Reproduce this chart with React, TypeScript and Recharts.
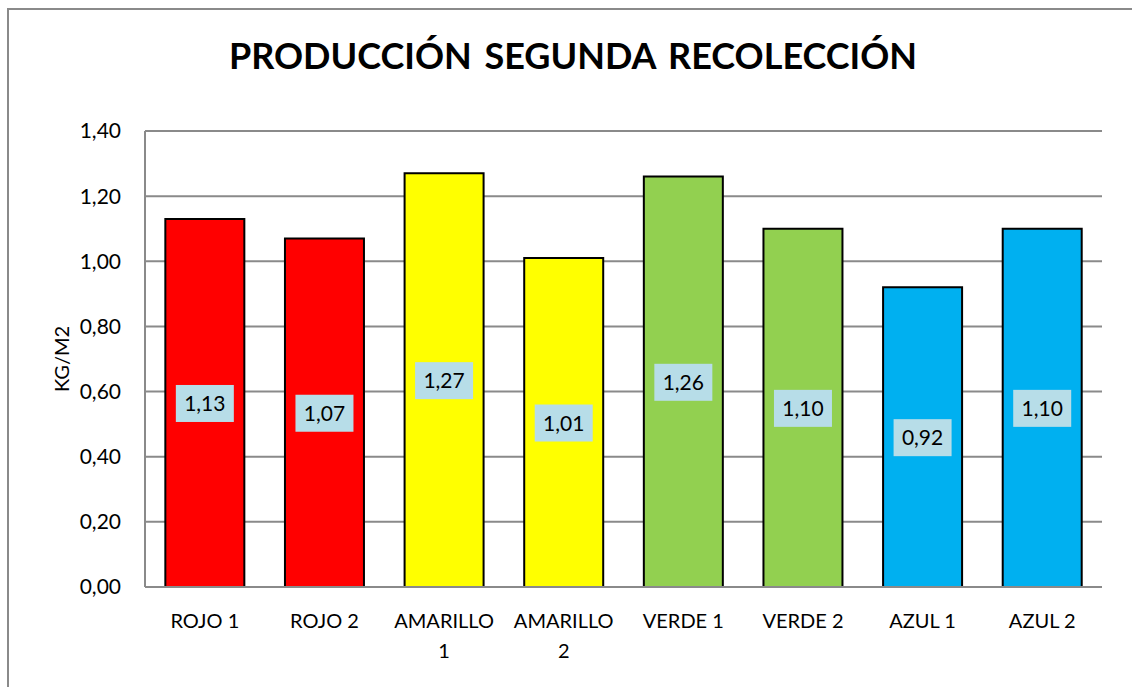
import React from "react";
import { BarChart, Bar, XAxis, YAxis, CartesianGrid, Cell, LabelList } from "recharts";

const categories = ["ROJO 1", "ROJO 2", "AMARILLO 1", "AMARILLO 2", "VERDE 1", "VERDE 2", "AZUL 1", "AZUL 2"];
const values = [1.13, 1.07, 1.27, 1.01, 1.26, 1.1, 0.92, 1.1];
const barColors = ["#FF0000", "#FF0000", "#FFFF00", "#FFFF00", "#92D050", "#92D050", "#00B0F0", "#00B0F0"];
const yTicks = [0, 0.2, 0.4, 0.6, 0.8, 1.0, 1.2, 1.4];

const data = categories.map((name, i) => ({ name, value: values[i] }));

const FONT = "Lato, 'Open Sans', sans-serif";
const fmt = (v: number) => v.toFixed(2).replace(".", ",");

function XTick(props: any) {
  const { x, y, payload } = props;
  const text: string = payload.value;
  const lines = text.length > 8 ? [text.slice(0, text.lastIndexOf(" ")), text.slice(text.lastIndexOf(" ") + 1)] : [text];
  return (
    <g transform={`translate(${x},${y})`}>
      {lines.map((l, i) => (
        <text key={i} x={0} y={i * 30 + 33} textAnchor="middle" fill="#000" fontSize={20} fontFamily={FONT}>
          {l}
        </text>
      ))}
    </g>
  );
}

function ValueBox(props: any) {
  const { x, y, width, height, value } = props;
  const cx = x + width / 2;
  const cy = y + height / 2;
  return (
    <g>
      <rect x={cx - 29} y={cy - 18} width={58} height={37} fill="#B7DDE8" />
      <text x={cx} y={cy + 8} textAnchor="middle" fontSize={21} fontFamily={FONT} fill="#000">
        {fmt(value)}
      </text>
    </g>
  );
}

export default function App() {
  return (
    <div style={{ position: "absolute", left: 0, top: 0, width: 1132, height: 687, overflow: "hidden", background: "#fff" }}>
      <div
        style={{
          position: "absolute",
          left: 7,
          top: 8,
          width: 2000,
          height: 2000,
          borderLeft: "2px solid #8a8a8a",
          borderTop: "2px solid #8a8a8a",
        }}
      />
      <div
        style={{
          position: "absolute",
          left: 0,
          width: 1132,
          top: 32,
          textAlign: "center",
          fontFamily: FONT,
          fontWeight: 700,
          fontSize: 36,
          lineHeight: "46px",
          wordSpacing: 4,
          paddingLeft: 14,
          boxSizing: "border-box",
        }}
      >
        PRODUCCIÓN SEGUNDA RECOLECCIÓN
      </div>
      <div style={{ position: "absolute", left: 0, top: 0 }}>
        <BarChart width={1132} height={687} data={data} margin={{ top: 131, right: 30, bottom: 0, left: 65 }} barCategoryGap="17%">
          <CartesianGrid vertical={false} stroke="#8a8a8a" strokeWidth={2} />
          <XAxis dataKey="name" tick={<XTick />} tickLine={false} axisLine={{ stroke: "#8a8a8a", strokeWidth: 2 }} interval={0} height={100} />
          <YAxis
            domain={[0, 1.4]}
            ticks={yTicks}
            tickFormatter={fmt}
            width={80}
            tickLine={false}
            axisLine={{ stroke: "#8a8a8a", strokeWidth: 2 }}
            tick={{ fill: "#000", fontSize: 21, fontFamily: FONT, dx: -16 }}
            label={{ value: "KG/M2", angle: -90, position: "insideLeft", dx: -8, style: { fill: "#000", fontSize: 20, fontFamily: FONT, textAnchor: "middle" } }}
          />
          <Bar dataKey="value" stroke="#000" strokeWidth={2} isAnimationActive={false}>
            {data.map((d, i) => (
              <Cell key={d.name} fill={barColors[i]} />
            ))}
            <LabelList dataKey="value" content={<ValueBox />} />
          </Bar>
        </BarChart>
      </div>
    </div>
  );
}
